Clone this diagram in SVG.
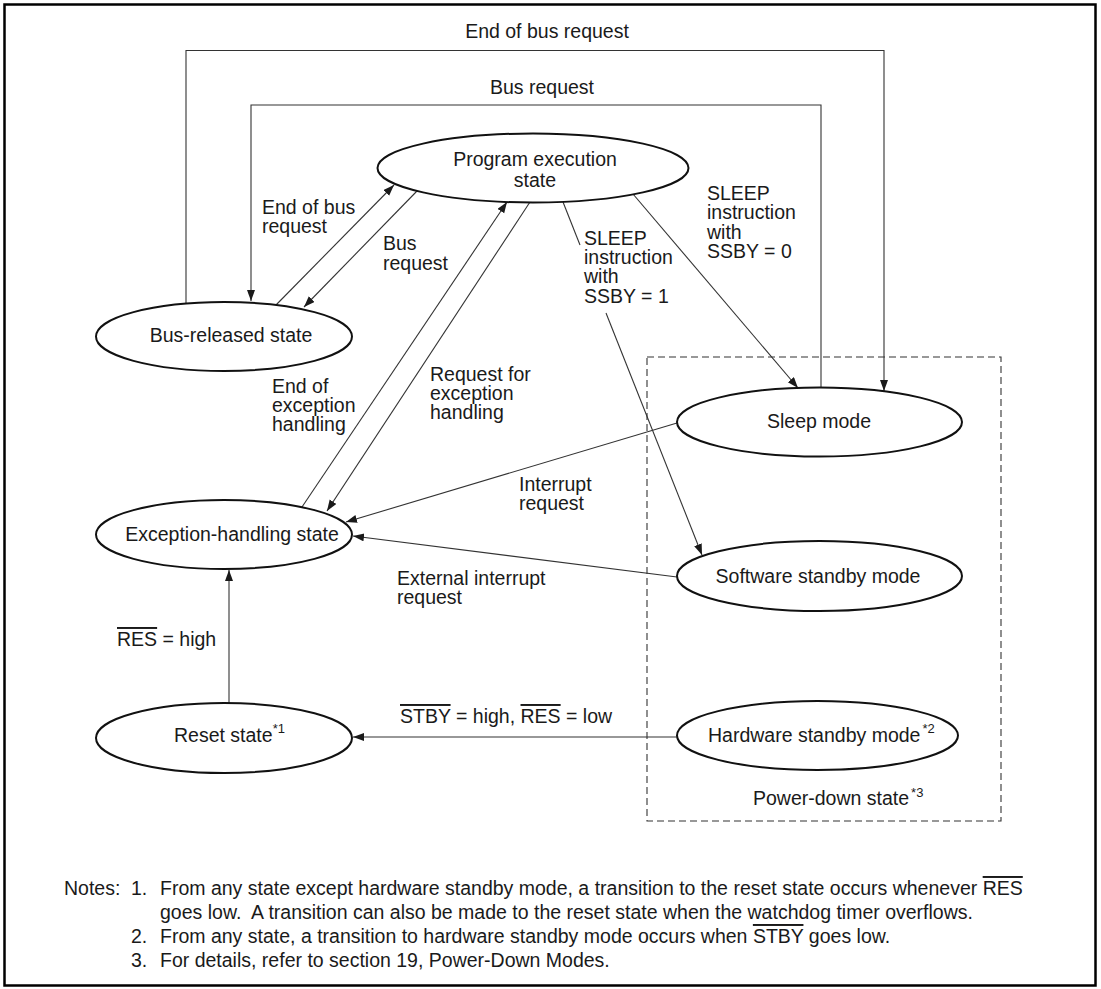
<svg xmlns="http://www.w3.org/2000/svg" width="1101" height="989" viewBox="0 0 1101 989">
<defs>
<style>
text { font-family: "Liberation Sans", Arial, sans-serif; font-size: 19.5px; fill: #1a1a1a; }
.node ellipse { fill: #fff; stroke: #111; stroke-width: 2; }
.c { fill: none; stroke: #333; stroke-width: 1.1; }
.a { marker-end: url(#ah); }
.m { text-anchor: middle; }
.sup { font-size: 13px; }
.ol { text-decoration: overline; }
.dash { fill: none; stroke: #333; stroke-width: 1.1; stroke-dasharray: 7 4; }
</style>
<marker id="ah" markerUnits="userSpaceOnUse" markerWidth="12" markerHeight="9" refX="11" refY="4" orient="auto"><path d="M0,0 L11,4 L0,8 z" fill="#1a1a1a"/></marker>
</defs>
<rect x="4.5" y="4.5" width="1091" height="981" fill="#fff" stroke="#000" stroke-width="2.5"/>

<g id="power-down">
<rect class="dash" x="647" y="357" width="354" height="464"/>
<text x="753" y="805">Power-down state<tspan class="sup" dx="2" dy="-8">*3</tspan></text>
</g>

<g id="connectors">
<path class="c a" d="M186,304 V50.5 H884 V391"/>
<path class="c a" d="M821,388 V105 H251 V301"/>
<path class="c a" d="M276,305 L394,185"/>
<path class="c a" d="M417,191 L304,307"/>
<path class="c a" d="M302,507 L507,202"/>
<path class="c a" d="M530,202 L327,511"/>
<path class="c" d="M563,202 L580,245"/>
<path class="c a" d="M606,313 L702,555"/>
<path class="c a" d="M633,194 L798,388"/>
<path class="c a" d="M677,423 L346,522"/>
<path class="c a" d="M677,577 L353,536"/>
<path class="c a" d="M229,703 V570"/>
<path class="c a" d="M677,737 H353"/>
</g>

<g id="labels">
<text class="m" x="547" y="38">End of bus request</text>
<text class="m" x="542" y="94">Bus request</text>
<text x="262" y="213.5">End of bus<tspan x="262" dy="19.3">request</tspan></text>
<text x="383" y="250">Bus<tspan x="383" dy="19.5">request</tspan></text>
<text x="584" y="245">SLEEP<tspan x="584" dy="19.2">instruction</tspan><tspan x="584" dy="19.2">with</tspan><tspan x="584" dy="19.2">SSBY = 1</tspan></text>
<text x="707" y="200">SLEEP<tspan x="707" dy="19.3">instruction</tspan><tspan x="707" dy="19.3">with</tspan><tspan x="707" dy="19.3">SSBY = 0</tspan></text>
<text x="272" y="393">End of<tspan x="272" dy="19">exception</tspan><tspan x="272" dy="19">handling</tspan></text>
<text x="430" y="381">Request for<tspan x="430" dy="19">exception</tspan><tspan x="430" dy="19">handling</tspan></text>
<text x="519" y="491">Interrupt<tspan x="519" dy="19">request</tspan></text>
<text x="397" y="585">External interrupt<tspan x="397" dy="19">request</tspan></text>
<text x="117" y="646"><tspan class="ol">RES</tspan> = high</text>
<text x="400" y="723"><tspan class="ol">STBY</tspan> = high, <tspan class="ol">RES</tspan> = low</text>
</g>

<g id="program-execution" class="node">
<ellipse cx="533" cy="168" rx="155.5" ry="34.5"/>
<text class="m" x="535" y="166">Program execution<tspan class="m" x="535" dy="21">state</tspan></text>
</g>

<g id="bus-released" class="node">
<ellipse cx="224" cy="336.5" rx="128" ry="34.5"/>
<text class="m" x="231" y="342">Bus-released state</text>
</g>

<g id="exception-handling" class="node">
<ellipse cx="224" cy="534.5" rx="128" ry="34.5"/>
<text class="m" x="232" y="541">Exception-handling state</text>
</g>

<g id="reset" class="node">
<ellipse cx="224" cy="738" rx="128" ry="35"/>
<text x="174" y="742">Reset state<tspan class="sup" dy="-9">*1</tspan></text>
</g>

<g id="sleep" class="node">
<ellipse cx="819.5" cy="422" rx="142.5" ry="34.5"/>
<text class="m" x="819" y="428">Sleep mode</text>
</g>

<g id="software-standby" class="node">
<ellipse cx="819.5" cy="576" rx="142.5" ry="35"/>
<text class="m" x="818" y="582.5">Software standby mode</text>
</g>

<g id="hardware-standby" class="node">
<ellipse cx="817.5" cy="735.5" rx="140.5" ry="34.5"/>
<text x="708" y="742">Hardware standby mode<tspan class="sup" dx="2" dy="-9">*2</tspan></text>
</g>

<g id="notes">
<text x="64" y="895">Notes:</text>
<text x="131" y="895">1.</text>
<text x="160" y="895">From any state except hardware standby mode, a transition to the reset state occurs whenever <tspan class="ol">RES</tspan></text>
<text x="160" y="919">goes low.&#160; A transition can also be made to the reset state when the watchdog timer overflows.</text>
<text x="131" y="943">2.</text>
<text x="160" y="943">From any state, a transition to hardware standby mode occurs when <tspan class="ol">STBY</tspan> goes low.</text>
<text x="131" y="967">3.</text>
<text x="160" y="967">For details, refer to section 19, Power-Down Modes.</text>
</g>
</svg>
